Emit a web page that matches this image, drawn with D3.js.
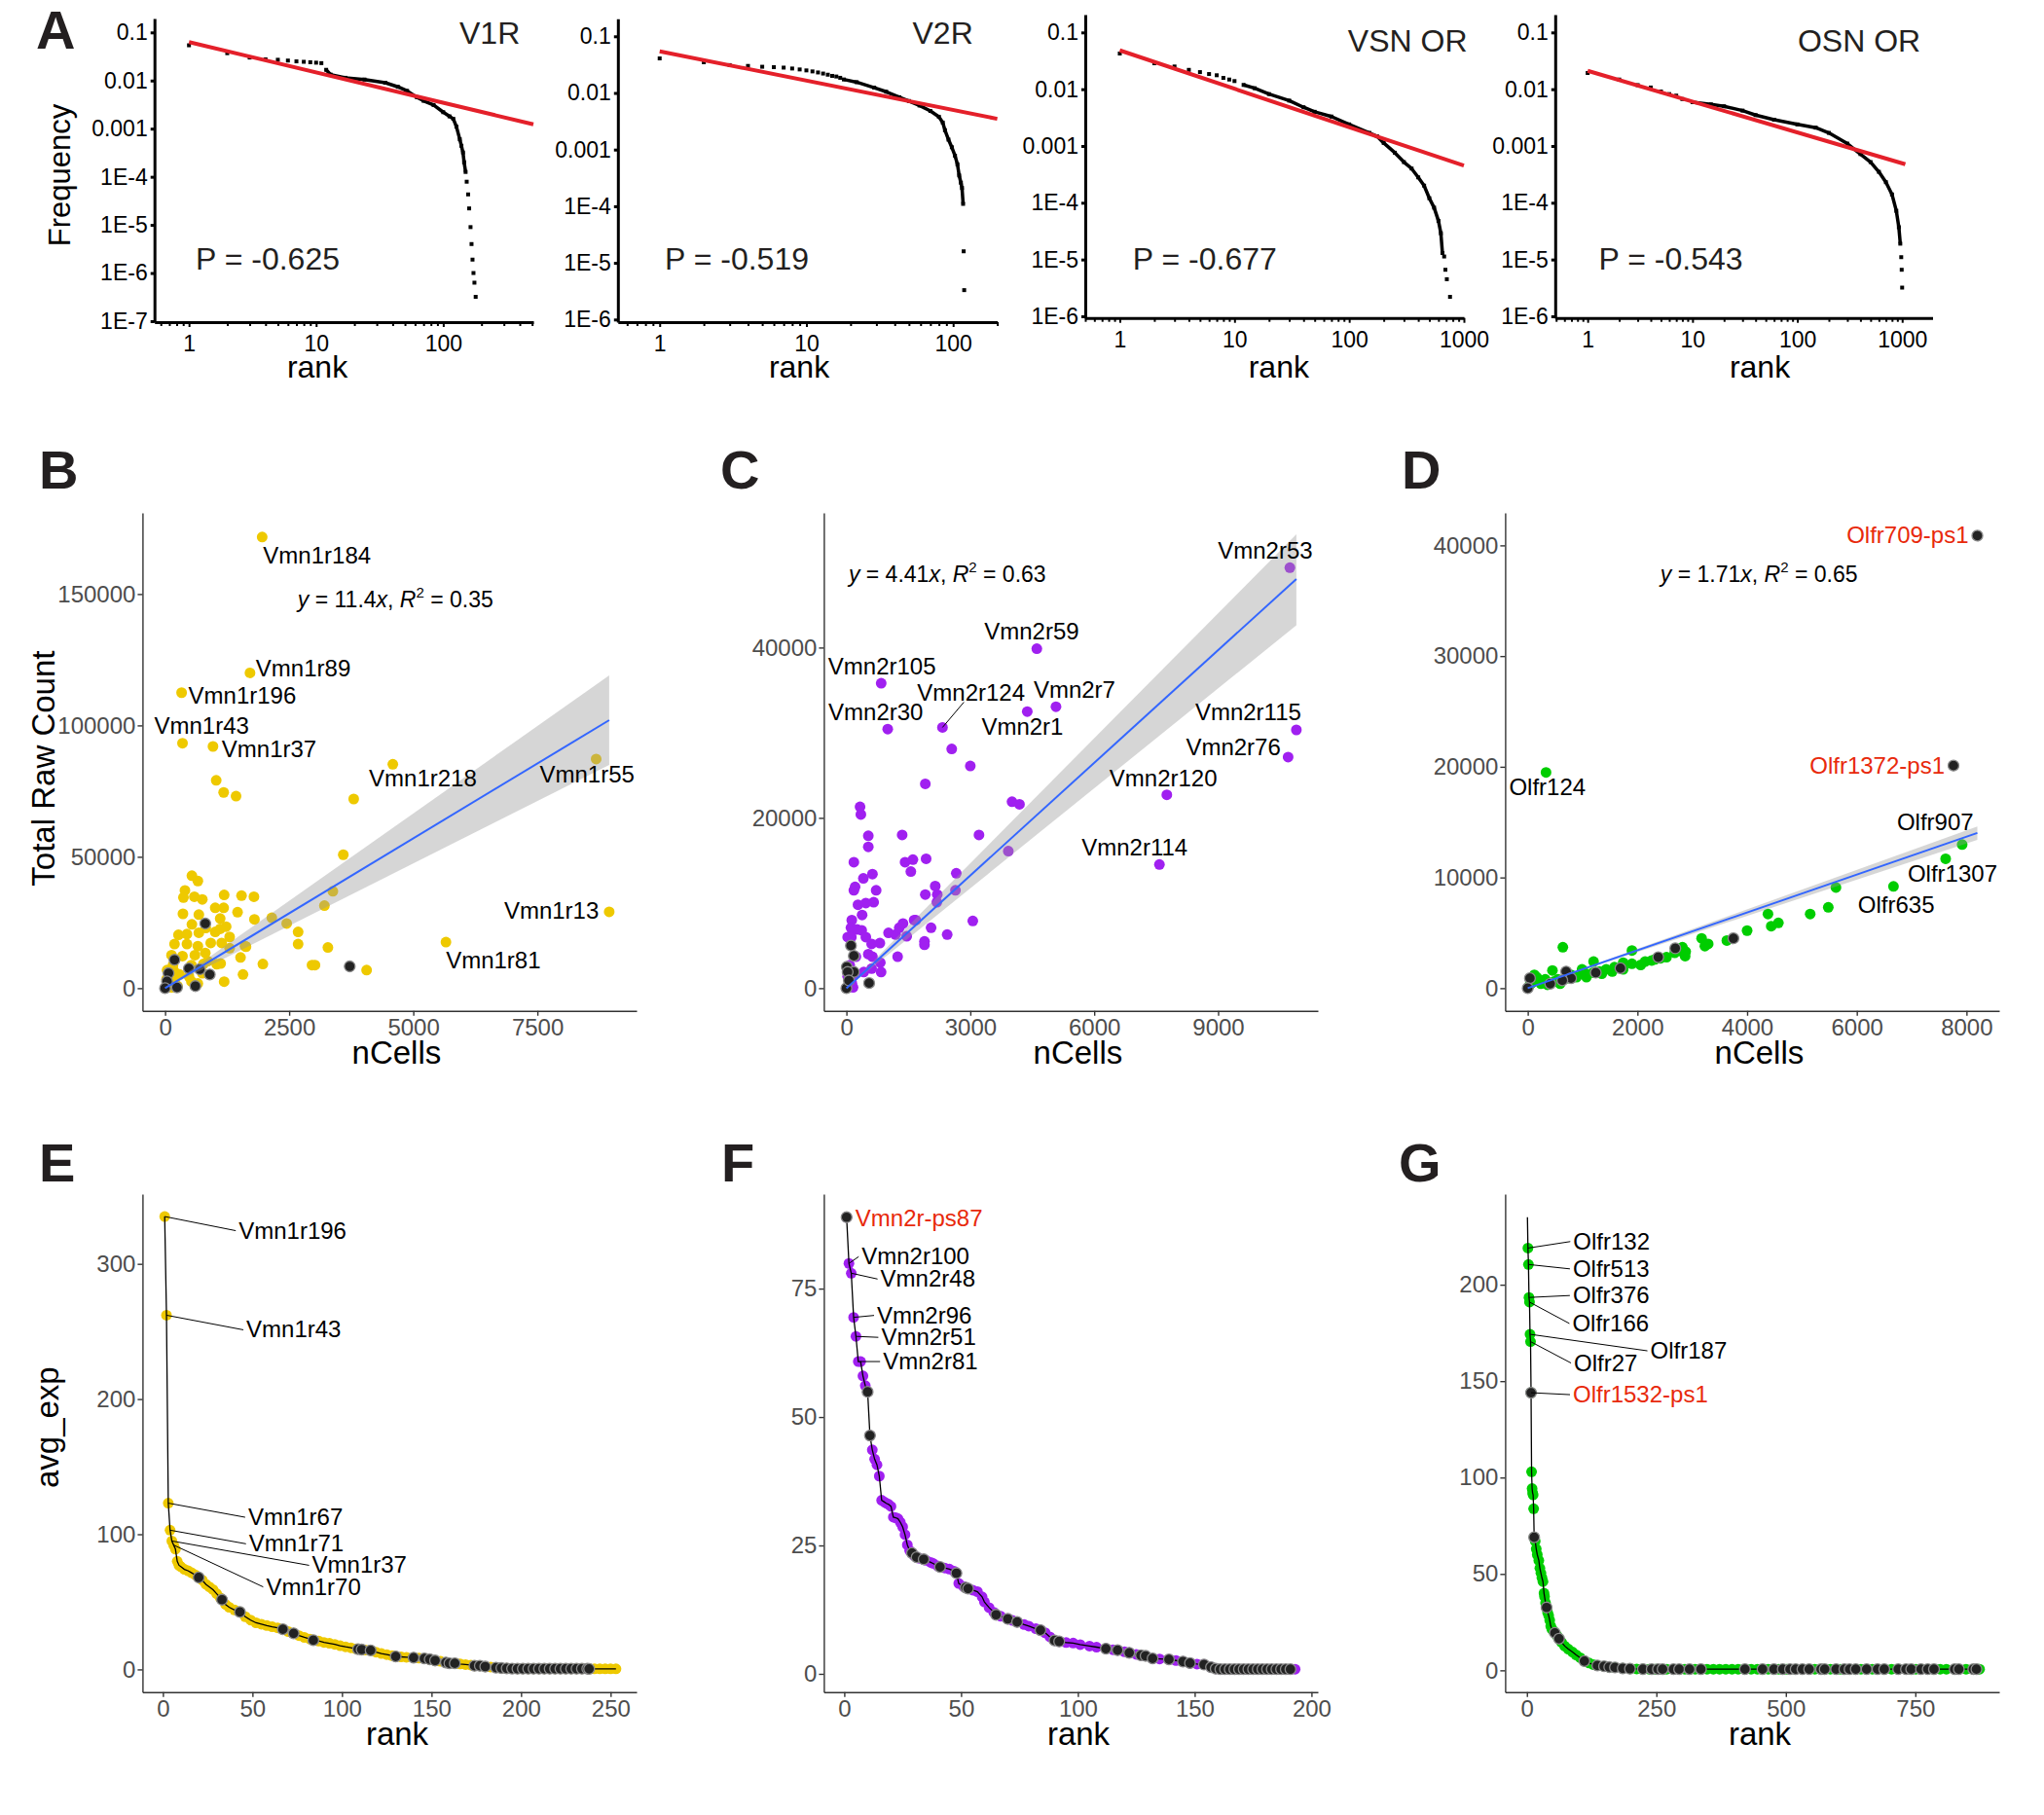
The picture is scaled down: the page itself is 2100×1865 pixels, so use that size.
<!DOCTYPE html>
<html><head><meta charset="utf-8">
<script src="https://cdn.jsdelivr.net/npm/d3@7"></script>
<style>body{margin:0;background:#fff}</style>
</head><body>
<script>
// ================= DATA =================
// Panel A: rank–frequency (rank, frequency)
const v1rHead = [[1,0.054],[2,0.037],[3,0.030],[4,0.0275],[5,0.027],[6,0.026],[7,0.025],[8,0.0245],[9,0.024],[10,0.0235],[11,0.023]];
const v1rDense = [[12,0.0167],[13,0.0133],[17,0.0114],[24,0.0105],[35,0.009],[44,0.0074],[52,0.0061],[62,0.0045],[70,0.0038],[84,0.0031],[100,0.0022],[112,0.0018],[120,0.0016],[127,0.0011],[135,0.0006],[139,0.00044],[143,0.00032],[146,0.0002],[150,0.000126]];
const v1rTail = [[153,7.9e-5],[157,4.3e-5],[160,2.2e-5],[164,9e-6],[167,4e-6],[170,1.9e-6],[173,1e-6],[176,6.3e-7],[180,3.2e-7]];
const v1rFit = [[1,0.0628],[512,0.00123]];

const v2rHead = [[1,0.0407],[2,0.0348],[3,0.031],[4,0.030],[5,0.029],[6,0.0285],[7,0.028],[8,0.027],[9,0.026],[10,0.025],[11,0.024],[12,0.023],[13,0.022],[14,0.021],[15,0.020],[16,0.0195],[17,0.0185]];
const v2rDense = [[18,0.0173],[22,0.0155],[29,0.0124],[35,0.0105],[43,0.0084],[50,0.0072],[59,0.006],[70,0.0048],[80,0.0038],[85,0.003],[88,0.0022],[93,0.0015],[98,0.0011],[103,0.00078],[107,0.00055],[110,0.00035],[113,0.00026],[115,0.00021],[117,0.00011]];
const v2rTail = [[118,1.6e-5],[119,3.3e-6]];
const v2rFit = [[1,0.0544],[200,0.00349]];

const vsnHead = [[1,0.0425],[2,0.0286],[3,0.0251],[4,0.0219],[5,0.020],[6,0.0185],[7,0.0176],[8,0.0158],[9,0.0148],[10,0.0139]];
const vsnDense = [[12,0.0119],[15,0.0104],[20,0.0082],[30,0.0063],[40,0.0048],[50,0.0040],[70,0.0033],[100,0.0024],[150,0.0017],[175,0.00148],[200,0.00113],[250,0.00076],[300,0.00052],[350,0.0004],[400,0.00028],[450,0.0002],[500,0.00012],[550,8.2e-5],[600,4.8e-5],[630,2.9e-5],[650,1.3e-5]];
const vsnTail = [[673,1.13e-5],[690,6.6e-6],[710,4.5e-6],[757,2.2e-6]];
const vsnFit = [[1,0.0483],[1000,0.00045]];

const osnHead = [[1,0.0193],[2,0.0148],[3,0.0118],[4,0.0107],[5,0.0091],[6,0.0082],[7,0.0077],[8,0.0067]];
const osnDense = [[10,0.0059],[15,0.0054],[20,0.005],[30,0.0042],[40,0.0035],[60,0.0029],[100,0.0024],[150,0.0021],[200,0.0017],[300,0.0011],[400,0.00072],[500,0.00052],[600,0.00035],[700,0.00023],[800,0.00014],[880,7.2e-5],[930,3.7e-5],[960,1.9e-5]];
const osnTail = [[980,1.1e-5],[990,6.6e-6],[1000,3.2e-6]];
const osnFit = [[1,0.0211],[1072,0.000477]];

const aTitles = ["V1R","V2R","VSN OR","OSN OR"];
const aExponents = ["P = -0.625","P = -0.519","P = -0.677","P = -0.543"];
const aYTicks6 = [0.1,0.01,0.001,1e-4,1e-5,1e-6];
const aYTickLabels = ["0.1","0.01","0.001","1E-4","1E-5","1E-6","1E-7"];
const aYTicks7 = [0.1,0.01,0.001,1e-4,1e-5,1e-6,1e-7];
const aXTicks3 = [1,10,100];
const aXTicks4 = [1,10,100,1000];

// Panel B: nCells vs total raw count (V1R)
const bYellow = [[1030,79100],[1180,74500],[1430,73100],[3800,72000],[3590,50800],[3380,36900],[3210,31400],[2150,26800],[2450,24600],[2680,21400],[2680,16800],[3280,15500],[1970,9200],[2960,8800],[3020,8800],[4060,6900],[1190,2500],[1570,5200],[540,42800],[660,40800],[400,37200],[370,34500],[590,34800],[750,33800],[1190,35500],[1540,35200],[1790,34800],[360,28300],[680,28000],[1010,30600],[1180,30600],[1460,28900],[1800,26200],[540,24300],[820,22900],[1110,26500],[1230,23400],[270,20300],[440,20600],[680,21100],[1010,21400],[190,16800],[440,16800],[660,16000],[920,17200],[1140,17200],[1610,16000],[1300,15200],[130,12600],[350,12200],[600,12600],[810,13400],[1520,11700],[160,8800],[530,8800],[770,9200],[1120,9400],[90,5700],[290,5200],[480,4500],[750,5700],[190,2600],[660,1800],[30,1100],[130,300],[250,800],[530,2600],[30,3400],[40,6900],[180,6500],[860,10300],[1040,9100],[1300,19500],[1630,15800],[1110,22600]];
const bBlack = [[810,24600],[190,10800],[480,7500],[700,7200],[900,5200],[70,5700],[610,800],[40,2600],[240,300],[0,0],[3720,8300]];
const bLabelNames = ["Vmn1r184","Vmn1r89","Vmn1r196","Vmn1r43","Vmn1r37","Vmn1r218","Vmn1r55","Vmn1r13","Vmn1r81"];
const bLabelX = [1956,1711,333,351,965,4588,8684,8947,5658];
const bLabelY = [171700,120000,112460,93230,92000,85230,87230,29080,17540];
const bFit = [[0,0],[8947,102000]];
const bBand = [[0,0,0],[8947,85000,119000]];
const bEquation = ["11.4","0.35"];

// Panel C: V2R
const cPurple = [[3000,26100],[2550,28100],[1910,24000],[4010,21900],[4190,21600],[3210,18000],[1350,18000],[1930,15200],[1420,14800],[1610,15100],[1560,13700],[2660,13500],[3920,16100],[2150,12000],[2200,11000],[1910,11000],[2640,11500],[2190,10100],[330,21300],[350,20400],[530,17900],[530,16600],[180,14800],[410,12900],[630,13400],[720,11500],[180,11500],[210,11900],[660,10100],[280,9800],[470,10000],[380,8600],[130,8000],[110,7100],[260,6900],[370,6800],[30,6000],[120,6000],[470,6000],[610,5200],[810,5300],[1020,6500],[1190,6300],[1280,7100],[1370,7600],[1640,8000],[1680,8000],[2050,7100],[2440,6300],[3060,7900],[1240,3700],[1460,6100],[1890,5500],[1890,5100],[530,4000],[630,3700],[820,3000],[840,1900],[230,3700],[80,2700],[190,1700],[420,1900],[610,2300],[30,1400],[130,600],[160,100],[60,300]];
const cBlack = [[110,5000],[180,3800],[10,2500],[180,1900],[30,1900],[550,600],[0,0],[60,900]];
const cLabelNames = ["Vmn2r53","Vmn2r59","Vmn2r105","Vmn2r124","Vmn2r7","Vmn2r1","Vmn2r30","Vmn2r115","Vmn2r76","Vmn2r120","Vmn2r114"];
const cLabelX = [10737,4610,842,2326,5074,4379,1000,10895,10695,7758,7579];
const cLabelY = [49380,39860,35810,30620,33050,32480,30430,30330,27140,22710,14520];
const cFit = [[0,0],[10895,48050]];
const cBand = [[0,0,0],[10895,42620,53300]];
const cEquation = ["4.41","0.63"];

// Panel D: OSN OR
const dGreen = [[5620,9100],[5480,7300],[5150,6700],[4380,6700],[4570,5900],[4440,5600],[4000,5200],[3630,4300],[3170,4500],[3290,4000],[3230,3800],[2820,3700],[2840,3200],[2680,3200],[2530,2800],[2260,2500],[2140,2400],[1900,3400],[1900,2200],[1730,1900],[1580,1900],[1430,1700],[1200,2400],[1190,1400],[1030,1400],[890,1000],[710,900],[640,3700],[450,1600],[480,600],[320,800],[160,1000],[80,500],[40,300],[240,400],[590,400],[990,1700],[1310,1500],[1740,2300],[120,1200],[200,800],[360,300],[550,800],[790,1200],[1070,1000],[1350,1300],[1540,1500],[2060,2100],[1740,1700],[2320,2600],[2420,2700],[2880,3300],[2870,2900]];
const dBlack = [[3750,4500],[2690,3600],[2380,2800],[1690,1800],[1240,1400],[700,1500],[790,900],[410,400],[40,900],[0,0],[630,700]];
const dLabelNames = ["Olfr709-ps1","Olfr1372-ps1","Olfr124","Olfr907","Olfr1307","Olfr635"];
const dLabelX = [8198,7763,333,7921,7620,6669];
const dLabelY = [40880,20110,19490,12970,11690,9190];
const dLabelPseudo = [true,true,false,false,false,false];
const dFit = [[0,0],[8198,14020]];
const dBand = [[0,0,0],[8198,13400,14600]];
const dEquation = ["1.71","0.65"];

// Panel E: V1R avg_exp by rank
const eSeries = [[1,335],[2,262],[3,123],[4,103],[5,95],[6,92],[7,89],[8,80],[9,77],[10,76],[12,74],[14,73],[16,71.5],[18,70],[20,68],[22,66],[24,63],[26,61],[28,59],[30,56],[32,53],[33,51.6],[35,48],[37,46],[40,44],[43,42.5],[46,39],[49,36.5],[52,34.5],[55,33.5],[58,32.5],[61,31.6],[64,30.8],[67,29.7],[70,28],[73,26.7],[76,25],[79,23.7],[82,22.5],[84,21.6],[87,21],[90,20],[93,19.3],[96,18.5],[99,17.5],[102,16.7],[105,16],[108,15.2],[109,15],[111,14.7],[113,14.4],[116,14.1],[119,12.8],[122,11.8],[125,11],[128,10.2],[130,9.6],[133,9.3],[136,9],[140,8.7],[143,8.4],[146,8.1],[149,7.5],[152,6.6],[155,6],[158,5.1],[160,4.5],[163,4.5],[166,4],[169,3.6],[172,3.2],[174,2.7],[177,2.7],[180,2.1],[183,1.8],[186,1.3],[189,1.0],[192,0.8],[195,0.6],[198,0.5],[201,0.5],[204,0.5],[207,0.5],[210,0.5],[213,0.5],[216,0.5],[219,0.5],[222,0.5],[225,0.5],[228,0.5],[231,0.5],[234,0.5],[237,0.5],[238,0.4],[241,0.4],[244,0.4],[247,0.4],[250,0.4],[253,0.4]];
const eBlack = [20,33,43,67,73,84,109,111,116,130,140,146,149,152,158,160,163,174,177,180,186,189,192,195,198,201,204,207,210,213,216,219,222,225,228,231,234,237,238];
const eHidden = [];
const eLabelRanks = [1,2,3,4,5,6];
const eLabelNames = ["Vmn1r196","Vmn1r43","Vmn1r67","Vmn1r71","Vmn1r37","Vmn1r70"];
const eLabelPseudo = [false,false,false,false,false,false];

// Panel F: V2R
const fSeries = [[1,88.9],[2,79.9],[3,78],[4,69.4],[5,65.7],[6,60.8],[7,60.8],[8,58],[9,56.1],[10,54.9],[11,46.4],[12,43.6],[13,41.8],[14,40.7],[15,38.5],[16,33.8],[17,33.5],[18,33.2],[19,33],[20,32.6],[21,30.5],[22,30.4],[23,30.2],[24,29.5],[25,28.6],[26,27.1],[27,25.1],[28,24],[29,23.5],[30,23],[31,22.7],[32,22.5],[34,22.3],[35,22.1],[37,21.7],[38,21.5],[40,21],[41,20.8],[43,20.6],[45,20.4],[47,20],[48,19.6],[49,17.6],[51,17],[52,16.8],[53,16.6],[55,16.3],[57,16],[59,15],[60,14],[62,12.9],[64,12],[65,11.5],[67,11.2],[70,10.7],[72,10.4],[74,10.1],[77,9.6],[79,9.3],[82,8.8],[84,8.5],[86,8],[88,7.2],[90,6.5],[92,6.3],[95,6.1],[98,6],[101,5.7],[105,5.4],[108,5.2],[112,4.9],[115,4.7],[117,4.6],[120,4.3],[122,4.1],[125,3.8],[127,3.6],[129,3.5],[132,3],[135,2.9],[139,2.8],[142,2.6],[145,2.4],[148,2.1],[151,1.9],[154,1.8],[157,1.3],[159,1],[161,0.9],[163,0.9],[165,0.9],[167,0.9],[169,0.9],[171,0.9],[173,0.9],[175,0.9],[177,0.9],[179,0.9],[181,0.9],[183,0.9],[185,0.9],[187,0.9],[189,0.9],[191,0.9],[193,0.9]];
const fBlack = [1,10,11,29,31,34,41,48,52,53,65,70,74,84,90,92,112,117,122,127,129,132,139,145,148,154,157,159,161,163,165,167,169,171,173,175,177,179,181,183,185,187,189,191];
const fHidden = [];
const fLabelRanks = [1,2,3,4,5,7];
const fLabelNames = ["Vmn2r-ps87","Vmn2r100","Vmn2r48","Vmn2r96","Vmn2r51","Vmn2r81"];
const fLabelPseudo = [true,false,false,false,false,false];

// Panel G: OSN OR
const gSeries = [[1,235],[2,219],[3,210.5],[4,193.4],[5,191],[6,174.3],[7,170.5],[8,144],[9,103],[10,94.3],[11,92],[12,91],[13,83.8],[14,69],[16,67],[18,63],[20,60],[23,57],[25,53],[27,50.5],[29,48],[31,46],[33,40],[34,38.3],[36,35],[38,32.6],[40,30],[42,28.4],[44,26],[46,23],[48,21.5],[51,20.5],[54,19.4],[58,18],[62,16.4],[67,14.5],[73,12.6],[80,11],[88,9.5],[95,8],[103,6.5],[111,4.8],[120,3.8],[128,3],[136,2.5],[149,2.1],[159,1.7],[170,1.5],[185,1.05],[199,0.84],[212,0.7],[224,0.65],[236,0.6],[241,0.6],[248,0.6],[253,0.6],[262,0.6],[270,0.6],[283,0.6],[294,0.6],[305,0.6],[314,0.6],[325,0.6],[336,0.6],[348,0.6],[360,0.6],[372,0.6],[384,0.6],[396,0.6],[408,0.6],[421,0.6],[433,0.6],[445,0.6],[455,0.6],[466,0.6],[477,0.6],[486,0.6],[494,0.6],[501,0.6],[508,0.6],[519,0.6],[532,0.6],[545,0.6],[556,0.6],[568,0.6],[575,0.6],[586,0.6],[597,0.6],[605,0.6],[613,0.6],[623,0.6],[635,0.6],[645,0.6],[656,0.6],[667,0.6],[677,0.6],[690,0.6],[704,0.6],[717,0.6],[732,0.6],[742,0.6],[751,0.6],[761,0.6],[774,0.6],[786,0.6],[798,0.6],[810,0.6],[826,0.6],[834,0.6],[848,0.6],[862,0.6],[868,0.6],[874,0.6]];
const gBlack = [8,14,38,54,62,111,136,149,159,170,185,199,224,241,253,262,283,294,314,336,421,455,477,494,508,519,532,545,568,575,597,613,623,635,656,677,690,717,732,742,761,774,786,826,834,862,868];
const gHidden = [1];
const gLabelRanks = [2,3,4,5,6,7,8];
const gLabelNames = ["Olfr132","Olfr513","Olfr376","Olfr166","Olfr187","Olfr27","Olfr1532-ps1"];
const gLabelPseudo = [false,false,false,false,false,false,true];

// ================= STYLE / LAYOUT =================
const FF = "'Liberation Sans', Arial, Helvetica, sans-serif";
const YELLOW = "#EEC900", PURPLE = "#A020F0", GREEN = "#00CD00";
const RED = "#E8290B", FITRED = "#E4202A", BLUE = "#3366FF";
const PT_R = 5.5;

const svg = d3.select("body").append("svg").attr("width",2100).attr("height",1865).style("background","#fff");

function letter(s, x, y){
  svg.append("text").attr("x",x).attr("y",y).attr("font-family",FF).attr("font-weight","bold")
    .attr("font-size",56).attr("fill","#231f20").text(s);
}

// ---------- Panel A ----------
function drawRankFreq(L, S){
  const x = d3.scaleLog().domain(S.xDomain).range([L.x0, L.x1]);
  const y = d3.scaleLog().domain(S.yDomain).range([L.yb, L.yt]);
  const g = svg.append("g");
  const ya = g.append("g").attr("transform",`translate(${L.x0},0)`)
    .call(d3.axisLeft(y).tickValues(S.yTicks).tickFormat((d,i)=>aYTickLabels[i]).tickSize(4).tickSizeOuter(0).tickPadding(3));
  ya.attr("font-family",FF).attr("font-size",23);
  ya.select(".domain").attr("stroke","#000").attr("stroke-width",3);
  ya.selectAll(".tick line").attr("stroke","#000").attr("stroke-width",3);
  ya.selectAll(".tick text").attr("fill","#000");
  const xa = g.append("g").attr("transform",`translate(0,${L.yb})`)
    .call(d3.axisBottom(x).tickValues(S.xTicks).tickFormat(d3.format("d")).tickSize(5).tickSizeOuter(0).tickPadding(L.xPad));
  xa.attr("font-family",FF).attr("font-size",23);
  xa.select(".domain").attr("stroke","#000").attr("stroke-width",3);
  xa.selectAll(".tick line").attr("stroke","#000").attr("stroke-width",2);
  xa.selectAll(".tick text").attr("fill","#000");
  const minor = x.ticks().filter(d => Math.abs(Math.log10(d) - Math.round(Math.log10(d))) > 1e-6);
  const xm = g.append("g").attr("transform",`translate(0,${L.yb})`)
    .call(d3.axisBottom(x).tickValues(minor).tickFormat("").tickSize(4).tickSizeOuter(0));
  xm.select(".domain").remove();
  xm.selectAll(".tick line").attr("stroke","#000").attr("stroke-width",2);

  const line = d3.line().x(d=>x(d[0])).y(d=>y(d[1]));
  g.append("path").datum(S.dense).attr("d",line).attr("fill","none").attr("stroke","#000")
    .attr("stroke-width",3.5).attr("stroke-linejoin","round");
  const pts = S.head.concat(S.dense, S.tail);
  g.selectAll("rect.pt").data(pts).join("rect").attr("class","pt")
    .attr("x",d=>x(d[0])-2).attr("y",d=>y(d[1])-2).attr("width",4).attr("height",4).attr("fill","#000");
  g.append("path").datum(S.fit).attr("d",line).attr("fill","none").attr("stroke",FITRED).attr("stroke-width",4);

  g.append("text").attr("x",L.title[0]).attr("y",L.title[1]).attr("font-family",FF).attr("font-size",32)
    .attr("fill","#231f20").text(S.title);
  g.append("text").attr("x",L.p[0]).attr("y",L.p[1]).attr("font-family",FF).attr("font-size",32)
    .attr("fill","#231f20").text(S.exponent);
  g.append("text").attr("x",L.rank[0]).attr("y",L.rank[1]).attr("text-anchor","middle").attr("font-family",FF)
    .attr("font-size",32).attr("fill","#000").text("rank");
}

const LA = [
  {x0:158.7, x1:548,   yt:19,   yb:331,   xPad:9, title:[472,45],    p:[201,277],    rank:[326,388]},
  {x0:634.8, x1:1024.6,yt:19.3, yb:331,   xPad:9, title:[937.5,45],  p:[683,277],    rank:[821,388]},
  {x0:1115,  x1:1504,  yt:15,   yb:326.7, xPad:9, title:[1384.8,53], p:[1163.8,277], rank:[1313.8,388]},
  {x0:1597.8,x1:1985.5,yt:15,   yb:326.7, xPad:9, title:[1846.9,53], p:[1642.6,277], rank:[1808,388]}
];
const SA = [
  {xDomain:[0.535,512], yDomain:[9.54e-8,0.1946], yTicks:aYTicks7, xTicks:aXTicks3, head:v1rHead, dense:v1rDense, tail:v1rTail, fit:v1rFit, title:aTitles[0], exponent:aExponents[0]},
  {xDomain:[0.519,200], yDomain:[8.99e-7,0.2038], yTicks:aYTicks6, xTicks:aXTicks3, head:v2rHead, dense:v2rDense, tail:v2rTail, fit:v2rFit, title:aTitles[1], exponent:aExponents[1]},
  {xDomain:[0.5,1000],  yDomain:[9.35e-7,0.206],  yTicks:aYTicks6, xTicks:aXTicks4, head:vsnHead, dense:vsnDense, tail:vsnTail, fit:vsnFit, title:aTitles[2], exponent:aExponents[2]},
  {xDomain:[0.49,1950], yDomain:[9.35e-7,0.206],  yTicks:aYTicks6, xTicks:aXTicks4, head:osnHead, dense:osnDense, tail:osnTail, fit:osnFit, title:aTitles[3], exponent:aExponents[3]}
];
LA.forEach((L,i)=>drawRankFreq(L, SA[i]));
svg.append("text").attr("transform","translate(72,180) rotate(-90)").attr("text-anchor","middle")
  .attr("font-family",FF).attr("font-size",31).attr("fill","#000").text("Frequency");

// ---------- common axes for B–G ----------
function ggAxes(g, x, y, L, xt, yt){
  const xa = g.append("g").attr("transform",`translate(0,${L.yb})`)
    .call(d3.axisBottom(x).tickValues(xt).tickFormat(d3.format("d")).tickSize(5).tickSizeOuter(0).tickPadding(3));
  const ya = g.append("g").attr("transform",`translate(${L.x0},0)`)
    .call(d3.axisLeft(y).tickValues(yt).tickFormat(d3.format("d")).tickSize(5).tickSizeOuter(0).tickPadding(2));
  [xa,ya].forEach(a=>{
    a.attr("font-family",FF).attr("font-size",24);
    a.select(".domain").attr("stroke","#333").attr("stroke-width",1.4);
    a.selectAll(".tick line").attr("stroke","#333").attr("stroke-width",1.4);
    a.selectAll(".tick text").attr("fill","#4d4d4d");
  });
}

function equation(g, x0, y0, eq){
  const t = g.append("text").attr("x",x0).attr("y",y0).attr("font-family",FF).attr("font-size",23).attr("fill","#000");
  t.append("tspan").attr("font-style","italic").text("y");
  t.append("tspan").text(" = " + eq[0]);
  t.append("tspan").attr("font-style","italic").text("x");
  t.append("tspan").text(", ");
  t.append("tspan").attr("font-style","italic").text("R");
  t.append("tspan").attr("font-size",15).attr("dy",-10).text("2");
  t.append("tspan").attr("dy",10).text(" = " + eq[1]);
}

function blackDots(g, data, x, y){
  g.selectAll(null).data(data).join("circle").attr("cx",d=>x(d[0])).attr("cy",d=>y(d[1])).attr("r",PT_R)
    .attr("fill","#222").attr("stroke","#8a8a8a").attr("stroke-width",1.3);
}

// ---------- Panels B, C, D ----------
function drawScatter(L, P){
  const x = d3.scaleLinear().domain(P.xDomain).range([L.x0, L.x1]);
  const y = d3.scaleLinear().domain(P.yDomain).range([L.yb, L.yt]);
  const g = svg.append("g");
  ggAxes(g, x, y, L, P.xTicks, P.yTicks);
  const lab = P.labX.map((v,i)=>[v, P.labY[i], P.pseudo ? P.pseudo[i] : false]);
  g.selectAll(null).data(P.colored.concat(lab.filter(d=>!d[2]))).join("circle")
    .attr("cx",d=>x(d[0])).attr("cy",d=>y(d[1])).attr("r",PT_R).attr("fill",P.color);
  blackDots(g, P.black.concat(lab.filter(d=>d[2])), x, y);
  const area = d3.area().x(d=>x(d[0])).y0(d=>y(d[1])).y1(d=>y(d[2]));
  g.append("path").datum(P.band).attr("d",area).attr("fill","#999").attr("fill-opacity",0.4);
  const line = d3.line().x(d=>x(d[0])).y(d=>y(d[1]));
  g.append("path").datum(P.fit).attr("d",line).attr("fill","none").attr("stroke",BLUE).attr("stroke-width",2);
  (P.connectors||[]).forEach(c=>{
    const px = x(P.labX[c.i]), py = y(P.labY[c.i]);
    g.append("line").attr("x1",px).attr("y1",py).attr("x2",px+c.dx).attr("y2",py+c.dy).attr("stroke","#000").attr("stroke-width",1);
  });
  P.names.forEach((n,i)=>{
    g.append("text").attr("x",x(P.labX[i])+P.dx[i]).attr("y",y(P.labY[i])+P.dy[i])
      .attr("text-anchor",P.anchor ? P.anchor[i] : "start")
      .attr("font-family",FF).attr("font-size",24).attr("fill",(P.pseudo && P.pseudo[i]) ? RED : "#000").text(n);
  });
  equation(g, P.eqPos[0], P.eqPos[1], P.eq);
  g.append("text").attr("x",L.x0+261).attr("y",1093).attr("text-anchor","middle").attr("font-family",FF)
    .attr("font-size",33).attr("fill","#000").text("nCells");
}

const LS = [
  {x0:146.4, x1:654,  yt:527, yb:1038.75},
  {x0:846.4, x1:1354, yt:527, yb:1038.75},
  {x0:1546.4,x1:2054, yt:527, yb:1038.75}
];
drawScatter(LS[0], {xDomain:[-455,9498], yDomain:[-8648,180889], xTicks:[0,2500,5000,7500], yTicks:[0,50000,100000,150000],
  colored:bYellow, black:bBlack, color:YELLOW, labX:bLabelX, labY:bLabelY, names:bLabelNames,
  dx:[1,6,7,-29,9,-24.5,-58,-108,0], dy:[27,4,11,-10,11,23,24,7,27],
  fit:bFit, band:bBand, eq:bEquation, eqPos:[305.8,624]});
drawScatter(LS[1], {xDomain:[-547,11416], yDomain:[-2669,55817], xTicks:[0,3000,6000,9000], yTicks:[0,20000,40000],
  colored:cPurple, black:cBlack, color:PURPLE, labX:cLabelX, labY:cLabelY, names:cLabelNames,
  dx:[-74,-54,-54.5,-26,-23,-47,-61,-104,-105,-59,-80], dy:[-9.5,-10,-9,-27.5,-9.5,24,-9.6,-10,-2,-9,-9],
  connectors:[{i:3,dx:22,dy:-26}],
  fit:cFit, band:cBand, eq:cEquation, eqPos:[871.9,597.9]});
drawScatter(LS[2], {xDomain:[-412,8597], yDomain:[-2053,42936], xTicks:[0,2000,4000,6000,8000], yTicks:[0,10000,20000,30000,40000],
  colored:dGreen, black:dBlack, color:GREEN, labX:dLabelX, labY:dLabelY, names:dLabelNames, pseudo:dLabelPseudo,
  anchor:["end","end","start","start","start","start"],
  dx:[-9,-9,-38,-67,-39,-36.5], dy:[8,8,23,-15,23.5,27],
  fit:dFit, band:dBand, eq:dEquation, eqPos:[1705.8,597.9]});
svg.append("text").attr("transform","translate(56,789.6) rotate(-90)").attr("text-anchor","middle")
  .attr("font-family",FF).attr("font-size",33).attr("fill","#000").text("Total Raw Count");

// ---------- Panels E, F, G ----------
function drawRank(L, P){
  const x = d3.scaleLinear().domain(P.xDomain).range([L.x0, L.x1]);
  const y = d3.scaleLinear().domain(P.yDomain).range([L.yb, L.yt]);
  const g = svg.append("g");
  ggAxes(g, x, y, L, P.xTicks, P.yTicks);
  const visible = P.series.filter(d=>!P.hidden.includes(d[0]));
  g.selectAll(null).data(visible).join("circle").attr("cx",d=>x(d[0])).attr("cy",d=>y(d[1])).attr("r",PT_R).attr("fill",P.color);
  const line = d3.line().x(d=>x(d[0])).y(d=>y(d[1]));
  g.append("path").datum(P.series).attr("d",line).attr("fill","none").attr("stroke","#000").attr("stroke-width",1.3);
  blackDots(g, P.series.filter(d=>P.black.includes(d[0])), x, y);
  P.labRanks.forEach((r,i)=>{
    const d = P.series.find(s=>s[0]===r);
    const px = x(d[0]), py = y(d[1]);
    const lx = px + P.dx[i], ly = py + P.dy[i];
    if (P.conn[i]) g.append("line").attr("x1",px).attr("y1",py).attr("x2",lx-3).attr("y2",ly-8).attr("stroke","#000").attr("stroke-width",1);
    g.append("text").attr("x",lx).attr("y",ly).attr("font-family",FF).attr("font-size",24)
      .attr("fill",P.pseudo[i] ? RED : "#000").text(P.names[i]);
  });
  g.append("text").attr("x",L.x0+261.6).attr("y",1793).attr("text-anchor","middle").attr("font-family",FF)
    .attr("font-size",33).attr("fill","#000").text("rank");
}
const LR = [
  {x0:146.4, x1:654,  yt:1227, yb:1738.75},
  {x0:846.4, x1:1354, yt:1227, yb:1738.75},
  {x0:1546.4,x1:2054, yt:1227, yb:1738.75}
];
drawRank(LR[0], {xDomain:[-11.4,264.5], yDomain:[-16.8,351.6], xTicks:[0,50,100,150,200,250], yTicks:[0,100,200,300],
  series:eSeries, black:eBlack, hidden:eHidden, color:YELLOW, labRanks:eLabelRanks, names:eLabelNames, pseudo:eLabelPseudo,
  dx:[76,82,82,81,144,95], dy:[22.5,23,22.5,22,33,51], conn:[1,1,1,1,1,1]});
drawRank(LR[1], {xDomain:[-8.75,202.75], yDomain:[-3.56,93.4], xTicks:[0,50,100,150,200], yTicks:[0,25,50,75],
  series:fSeries, black:fBlack, hidden:fHidden, color:PURPLE, labRanks:fLabelRanks, names:fLabelNames, pseudo:fLabelPseudo,
  dx:[9,13,30,24,26,23], dy:[9,1,14,6,9,8], conn:[0,1,1,1,1,1]});
drawRank(LR[2], {xDomain:[-42,912], yDomain:[-11.3,247], xTicks:[0,250,500,750], yTicks:[0,50,100,150,200],
  series:gSeries, black:gBlack, hidden:gHidden, color:GREEN, labRanks:gLabelRanks, names:gLabelNames, pseudo:gLabelPseudo,
  dx:[46.5,45.6,45,44,123.6,44.6,43], dy:[1.3,12.5,6,30,25,30,10], conn:[1,1,1,1,1,1,1]});
svg.append("text").attr("transform","translate(60,1466.7) rotate(-90)").attr("text-anchor","middle")
  .attr("font-family",FF).attr("font-size",33).attr("fill","#000").text("avg_exp");

// ---------- panel letters ----------
letter("A",37,50); letter("B",40,502); letter("C",740,502); letter("D",1440,502);
letter("E",40,1214); letter("F",741,1214); letter("G",1437,1214);
</script>
</body></html>
